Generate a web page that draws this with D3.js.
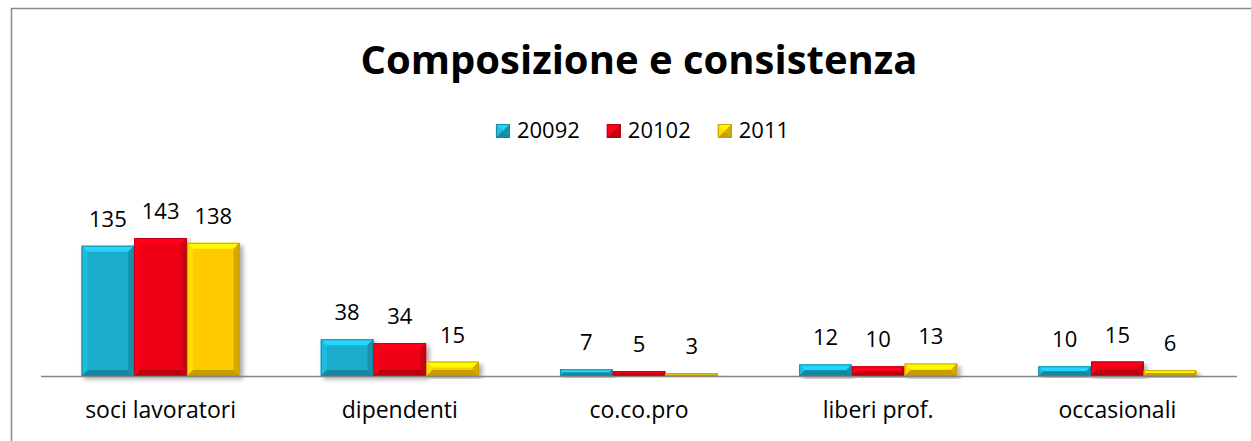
<!DOCTYPE html>
<html>
<head>
<meta charset="utf-8">
<script src="https://cdn.jsdelivr.net/npm/d3@7"></script>
<style>
  body { margin: 0; background: #fff; }
  text { font-family: "Open Sans", Lato, sans-serif; fill: #000; }
</style>
</head>
<body>
<div id="chart"></div>
<script>
// data
var categories = ["soci lavoratori", "dipendenti", "co.co.pro", "liberi prof.", "occasionali"];
var seriesNames = ["20092", "20102", "2011"];
var values2009 = [135, 38, 7, 12, 10];
var values2010 = [143, 34, 5, 10, 15];
var values2011 = [138, 15, 3, 13, 6];
var seriesColors = ["#1cadcd", "#ee0016", "#ffca00"];

var chart = {};

chart.init = function() {
    var width = 1251, height = 441;
    var seriesValues = [values2009, values2010, values2011];

    var svg = d3.select("#chart").append("svg")
        .attr("width", width)
        .attr("height", height);

    var defs = svg.append("defs");
    var shadow = defs.append("filter").attr("id", "shadow")
        .attr("x", "-10%").attr("y", "-10%").attr("width", "130%").attr("height", "130%");
    shadow.append("feGaussianBlur").attr("in", "SourceAlpha").attr("stdDeviation", 2.5);
    shadow.append("feOffset").attr("dx", 3).attr("dy", 3).attr("result", "b");
    shadow.append("feComponentTransfer").append("feFuncA").attr("type", "linear").attr("slope", 0.35);
    var m = shadow.append("feMerge");
    m.append("feMergeNode");
    m.append("feMergeNode").attr("in", "SourceGraphic");

    // frame
    svg.append("rect")
        .attr("x", 11.5).attr("y", 8.5)
        .attr("width", width + 20).attr("height", height + 20)
        .attr("fill", "none")
        .attr("stroke", "#8a8a8a")
        .attr("stroke-width", 1.5);

    // title
    svg.append("text")
        .attr("x", 639).attr("y", 74)
        .attr("text-anchor", "middle")
        .style("font-size", "40px")
        .style("font-weight", "bold")
        .text("Composizione e consistenza");

    var x0 = d3.scaleBand().domain(categories).range([41, 1237]);
    var x1 = d3.scaleBand().domain(seriesNames).range([0, x0.bandwidth()]).paddingOuter(0.77);
    var y = d3.scaleLinear().domain([0, 160]).range([376, 376 - 160 * 138 / 143]);

    function bevelBar(g, bx, by, bw, bh, color) {
        var c = d3.color(color);
        var b = Math.min(6, bh / 2, bw / 2);
        g.append("rect").attr("x", bx).attr("y", by).attr("width", bw).attr("height", bh)
            .attr("fill", color);
        var x2 = bx + bw, y2 = by + bh;
        // top (light)
        g.append("polygon")
            .attr("points", [[bx, by], [x2, by], [x2 - b, by + b], [bx + b, by + b]].join(" "))
            .attr("fill", c.brighter(0.6));
        // left
        g.append("polygon")
            .attr("points", [[bx, by], [bx + b, by + b], [bx + b, y2 - b], [bx, y2]].join(" "))
            .attr("fill", c.brighter(0.25));
        // right (dark)
        g.append("polygon")
            .attr("points", [[x2, by], [x2, y2], [x2 - b, y2 - b], [x2 - b, by + b]].join(" "))
            .attr("fill", c.darker(0.5));
        // bottom (dark)
        g.append("polygon")
            .attr("points", [[bx, y2], [x2, y2], [x2 - b, y2 - b], [bx + b, y2 - b]].join(" "))
            .attr("fill", c.darker(0.7));
        g.append("rect").attr("x", bx + 0.5).attr("y", by + 0.5).attr("width", Math.max(0, bw - 1)).attr("height", Math.max(0, bh - 1))
            .attr("fill", "none").attr("stroke", c.darker(0.8)).attr("stroke-width", 0.8);
    }

    // bars
    var groups = svg.append("g").selectAll("g")
        .data(categories)
        .enter().append("g")
        .attr("transform", function(d) { return "translate(" + x0(d) + ",0)"; });

    groups.each(function(cat, ci) {
        var g = d3.select(this);
        seriesNames.forEach(function(s, si) {
            var v = seriesValues[si][ci];
            var bg = g.append("g").attr("filter", "url(#shadow)");
            bevelBar(bg, x1(s), y(v), x1.bandwidth(), y(0) - y(v), seriesColors[si]);
        });
        seriesNames.forEach(function(s, si) {
            var v = seriesValues[si][ci];
            g.append("text")
                .attr("x", x1(s) + x1.bandwidth() / 2)
                .attr("y", y(v) - 19)
                .attr("text-anchor", "middle")
                .style("font-size", "22px")
                .text(v);
        });
    });

    // axis line
    svg.append("line")
        .attr("x1", 41).attr("x2", 1237)
        .attr("y1", y(0) + 0.5).attr("y2", y(0) + 0.5)
        .attr("stroke", "#868686").attr("stroke-width", 1.5);

    // category labels
    svg.append("g").selectAll("text")
        .data(categories)
        .enter().append("text")
        .attr("x", function(d) { return x0(d) + x0.bandwidth() / 2; })
        .attr("y", 418)
        .attr("text-anchor", "middle")
        .style("font-size", "23px")
        .text(function(d) { return d; });

    // legend
    var legend = svg.append("g");
    var lx = 0;
    seriesNames.forEach(function(s, i) {
        var item = legend.append("g").attr("transform", "translate(" + lx + ",0)");
        bevelBar(item, 0, 124, 14, 14, seriesColors[i]);
        var t = item.append("text").attr("x", 21).attr("y", 138)
            .style("font-size", "22px").text(s);
        lx += 21 + t.node().getComputedTextLength() + 27;
    });
    var lw = lx - 27;
    legend.attr("transform", "translate(" + (642.5 - lw / 2) + ",0)");
};

chart.init();
</script>
</body>
</html>
